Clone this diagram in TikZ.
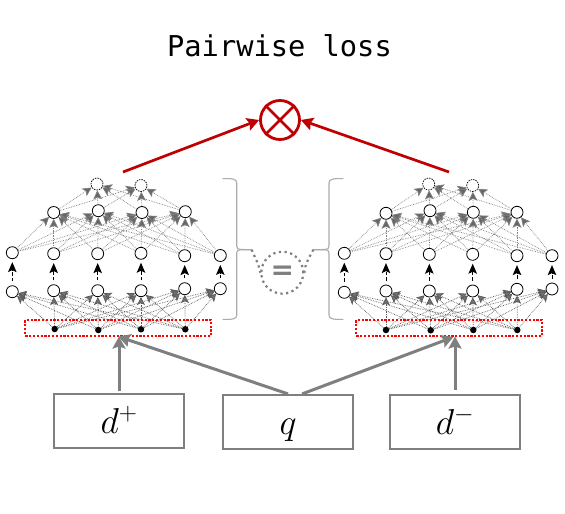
\documentclass[tikz,border=0pt]{standalone}
\usepackage{fix-cm}
\usepackage{amsmath}
\usepackage{fontspec}
\usetikzlibrary{arrows.meta}
\newfontfamily\titlefont{DejaVu Sans Mono}
\newfontfamily\eqfont{DejaVu Sans}
\definecolor{lossred}{RGB}{192,0,0}
\definecolor{boxgray}{RGB}{127,127,127}
\tikzset{
  unit/.style={circle, draw, fill=white, minimum size=12pt, inner sep=0pt, line width=0.8pt},
  topunit/.style={unit, dash pattern=on 1.5pt off 1pt, line width=0.7pt},
  inunit/.style={circle, fill=black, minimum size=6.5pt, inner sep=0pt},
  inbox/.style={draw=red, dash pattern=on 2.2pt off 1.6pt, line width=1.9pt, minimum width=186pt, minimum height=15.4pt, inner sep=0pt},
  linkdark/.style={densely dotted, line width=0.7pt, draw=black!65, -{Stealth[length=8pt,width=8pt,inset=2pt,fill=black!55]}},
  linklight/.style={densely dotted, line width=0.7pt, draw=black!50, -{Stealth[length=9pt,width=9pt,inset=2pt,fill=black!60]}},
  linkup/.style={dash pattern=on 3.5pt off 2pt, line width=1pt, shorten >=3pt, shorten <=4pt, -{Stealth[length=10pt,width=8.5pt,inset=2pt]}},
  lossarrow/.style={draw=lossred, line width=2.7pt, -{Stealth[length=12pt,width=13pt,inset=2pt]}},
  feedarrow/.style={draw=boxgray, line width=3pt, -{Stealth[length=12pt,width=13pt,inset=2pt]}},
  inputbox/.style={draw=boxgray, line width=1.6pt, minimum width=130pt, minimum height=54pt, inner sep=0pt, text height=25pt, text depth=0pt, font=\fontsize{36}{40}\selectfont},
  bracket/.style={draw=black!33, line width=1.1pt},
  tiedots/.style={draw=boxgray, line width=2.2pt, dash pattern=on 2.2pt off 3.5pt}
}
% all-to-all links between two layers of one net
\newcommand{\netlinks}[1]{
  \foreach \i in {1,...,4}
    \foreach \j in {1,...,6}
      \draw[linkdark] (#1in\i) -- (#1b\j);
  \foreach \j in {1,...,6}
    \draw[linkup] (#1b\j) -- (#1a\j);
  \foreach \j in {1,...,6}
    \foreach \i in {1,...,4}
      \draw[linklight] (#1a\j) -- (#1h\i);
  \foreach \i in {1,...,4}
    \foreach \k in {1,2}
      \draw[linklight] (#1h\i) -- (#1t\k);
}
\begin{document}
\begin{tikzpicture}[x=1pt, y=-1pt]
  \useasboundingbox (0,0) rectangle (565,514);
  \node[font=\titlefont\fontsize{28.7}{32}\selectfont] (title) at (279.5,46) {Pairwise loss};

  % loss
  \node[circle, draw=lossred, line width=2.8pt, minimum size=39pt, inner sep=0pt] (mul) at (280,120) {};
  \draw[draw=lossred, line width=2.8pt] (mul.45) -- (mul.225) (mul.135) -- (mul.315);

  % left net
  \foreach \n/\x/\y in {lt1/97/184, lt2/141/185.5}
    \node[topunit] (\n) at (\x,\y) {};
  \foreach \n/\x/\y in {lh1/53.7/212.5, lh2/98.3/210.7, lh3/142/212.5, lh4/185.3/211.7,
    la1/12.3/252.7, la2/53.7/253.7, la3/97.7/253.7, la4/141/253.3, la5/184.7/255.7, la6/220.3/255.5,
    lb1/12.3/291.7, lb2/53.7/290.7, lb3/97.7/290.7, lb4/141/290.7, lb5/184.7/288.7, lb6/220.3/288.7}
    \node[unit] (\n) at (\x,\y) {};
  \foreach \n/\x/\y in {lin1/54.7/329, lin2/98.3/330, lin3/141/329.3, lin4/185.3/329.3}
    \node[inunit] (\n) at (\x,\y) {};

  % right net
  \foreach \n/\x/\y in {rt1/428.7/184, rt2/472.7/185.5}
    \node[topunit] (\n) at (\x,\y) {};
  \foreach \n/\x/\y in {rh1/386/213.3, rh2/430/210.7, rh3/473.3/212.3, rh4/517/212.3,
    ra1/344.3/253.3, ra2/386/253.7, ra3/429.3/254.3, ra4/472.7/254.3, ra5/517/255.7, ra6/552/255.7,
    rb1/344.3/292.3, rb2/386/291, rb3/429.3/291, rb4/472.7/291, rb5/517/289.3, rb6/552/289}
    \node[unit] (\n) at (\x,\y) {};
  \foreach \n/\x/\y in {rin1/386/330, rin2/430.7/330.3, rin3/473.3/330, rin4/517.3/330}
    \node[inunit] (\n) at (\x,\y) {};

  \netlinks{l}
  \netlinks{r}

  % input groups
  \node[inbox] (lbox) at (118.3,327.9) {};
  \node[inbox] (rbox) at (449.3,327.9) {};

  % brackets
  \coordinate (ltie) at (251.7,249.7);
  \coordinate (rtie) at (313.3,249.7);
  \draw[bracket] (222.7,178.6) .. controls (233,178.4) and (236.7,179) .. (236.7,183) -- (236.7,246)
    .. controls (236.7,248.5) and (238,249.5) .. (241,249.5) -- (ltie);
  \draw[bracket] (222.7,319.4) .. controls (233,319.6) and (236.7,319) .. (236.7,315) -- (236.7,253)
    .. controls (236.7,250.5) and (238,249.7) .. (241,249.7) -- (ltie);
  \draw[bracket] (343.3,178.6) .. controls (333,178.4) and (329,179) .. (329,183) -- (329,246)
    .. controls (329,248.5) and (327.7,249.5) .. (325,249.5) -- (rtie);
  \draw[bracket] (343.3,319.4) .. controls (333,319.6) and (329,319) .. (329,315) -- (329,253)
    .. controls (329,250.5) and (327.7,249.7) .. (325,249.7) -- (rtie);

  % weight tie
  \node[circle, tiedots, minimum size=42pt, inner sep=0pt, text=boxgray, font=\eqfont\bfseries\fontsize{28}{30}\selectfont] (tie) at (282.3,272.7) {=};
  \draw[tiedots] (ltie) .. controls (255,258) and (259,264) .. (tie.west);
  \draw[tiedots] (rtie) .. controls (309,258) and (305,264) .. (tie.east);

  % inputs
  \node[inputbox] (dplus) at (119,421) {$d^{+}$};
  \node[inputbox] (query) at (288,421.7) {$q$};
  \node[inputbox] (dminus) at (455,421.7) {$d^{-}$};

  % arrows
  \coordinate (lstart) at (123,172);
  \coordinate (rstart) at (449,172);
  \coordinate (rtip) at (453.5,337);
  \draw[lossarrow] (lstart) -- (mul.west);
  \draw[lossarrow] (rstart) -- (mul.east);
  \draw[feedarrow, shorten <=2pt] (dplus.north) -- (dplus.north |- lbox.south);
  \draw[feedarrow] (query.north) -- (lbox.south);
  \draw[feedarrow] (query.63) -- (rtip);
  \draw[feedarrow, shorten <=4pt] (dminus.north) -- (dminus.north |- rbox.south);
\end{tikzpicture}
\end{document}
